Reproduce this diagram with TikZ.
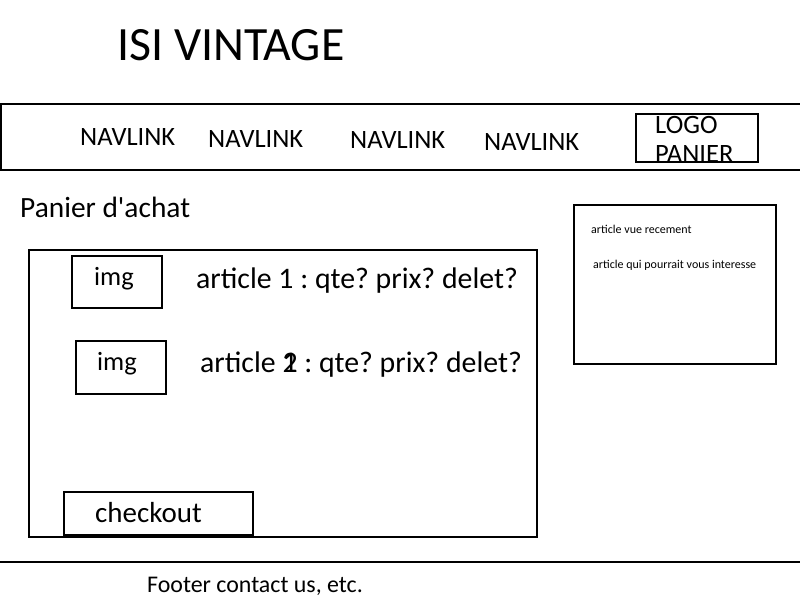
\documentclass[tikz,border=0pt]{standalone}
\usepackage{fontspec}
\setmainfont{Carlito}
\frenchspacing
\begin{document}
\begin{tikzpicture}[x=1pt,y=-1pt,
  box/.style={draw=black,line width=2pt},
  txt/.style={inner sep=0pt,anchor=west,text=black},
  nav/.style={txt,font=\fontsize{26.5}{28}\selectfont},
  big/.style={txt,font=\fontsize{29.8}{31}\selectfont},
  small/.style={txt,font=\fontsize{12}{14}\selectfont}]
\useasboundingbox (0,0) rectangle (800,600);
\fill[white] (0,0) rectangle (800,600);
% title
\node[txt,font=\fontsize{47.8}{50}\selectfont] (title) at (117,45) {ISI VINTAGE};
% nav bar
\draw[line width=2pt] (800,104) -- (1,104) -- (1,170) -- (800,170);
\node[nav] (n1) at (80,137) {NAVLINK};
\node[nav] (n2) at (208,139) {NAVLINK};
\node[nav] (n3) at (350,140) {NAVLINK};
\node[nav] (n4) at (484,142) {NAVLINK};
\draw[box] (636,114) rectangle (758,162);
\node[nav] (logo) at (655,125) {LOGO};
\node[nav] (panier) at (655,154) {PANIER};
% cart
\node[txt,font=\fontsize{29.4}{31}\selectfont] (cart) at (20,207) {Panier d\textquotesingle achat};
\draw[box] (29,250) rectangle (537,537);
\draw[box] (72,256) rectangle (162,308);
\node[txt,font=\fontsize{26.4}{28}\selectfont] (img1) at (94,279) {img};
\node[big] (a1) at (196,281) {article 1 : qte? prix? delet?};
\draw[box] (76,341) rectangle (166,394);
\node[txt,font=\fontsize{26.4}{28}\selectfont] (img2) at (97,364) {img};
\node[big] (a2) at (200,365) {article \rlap{1}2 : qte? prix? delet?};
\draw[box] (64,492) rectangle (253,535);
\node[txt,font=\fontsize{29}{31}\selectfont] (co) at (95,513) {checkout};
% side box
\draw[box] (574,205) rectangle (776,364);
\node[small] (s1) at (591,229) {article vue recement};
\node[small] (s2) at (593,265) {article qui pourrait vous interesse};
% footer
\draw[line width=2pt] (0,562) -- (800,562);
\node[txt,font=\fontsize{23.9}{26}\selectfont] (foot) at (147,586) {Footer contact us, etc.};
\end{tikzpicture}
\end{document}
